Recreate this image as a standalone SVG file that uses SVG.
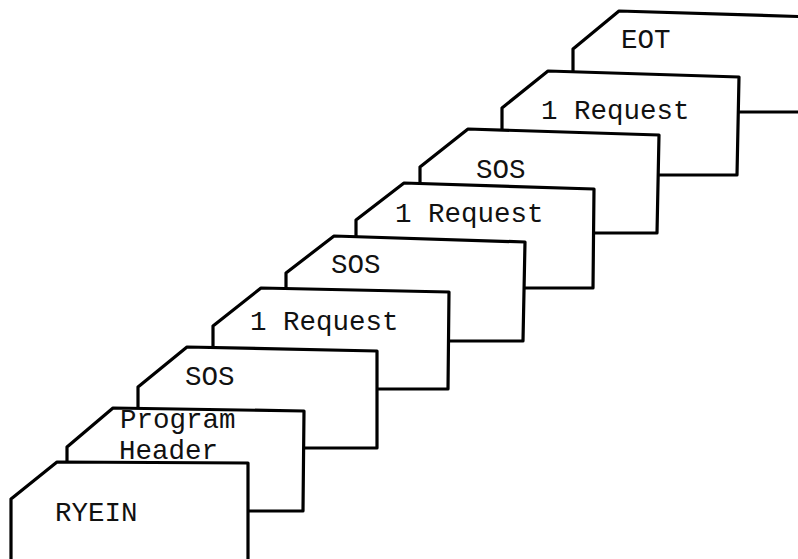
<svg xmlns="http://www.w3.org/2000/svg" width="798" height="559" viewBox="0 0 798 559">
<style>
.card{fill:#fff;stroke:#000;stroke-width:3.2;stroke-linejoin:round}
.lbl{font-family:"Liberation Mono","Courier New",monospace;font-size:27.5px;fill:#111}
</style>
<rect width="798" height="559" fill="#fff"/>
<g id="card-eot"><path class="card" d="M573,112 L573,49 L619,11 L815,17 L815,112 Z"/><text class="lbl" x="621" y="48">EOT</text></g>
<g id="card-request-3"><path class="card" d="M502,175 L502,108 L548,71 L739,77 L737,175 Z"/><text class="lbl" x="541" y="119">1 Request</text></g>
<g id="card-sos-3"><path class="card" d="M420,233 L420,167 L468,129 L659,135 L657,233 Z"/><text class="lbl" x="476" y="178">SOS</text></g>
<g id="card-request-2"><path class="card" d="M356,288 L356,220 L404,183 L594,189 L593,288 Z"/><text class="lbl" x="395" y="222">1 Request</text></g>
<g id="card-sos-2"><path class="card" d="M286,341 L286,273 L334,236 L525,242 L523,341 Z"/><text class="lbl" x="331" y="273">SOS</text></g>
<g id="card-request-1"><path class="card" d="M213,389 L213,326 L261,288 L449,292 L448,389 Z"/><text class="lbl" x="250" y="330">1 Request</text></g>
<g id="card-sos-1"><path class="card" d="M138,448 L138,387 L187,347 L377,351 L377,448 Z"/><text class="lbl" x="185" y="385">SOS</text></g>
<g id="card-program-header"><path class="card" d="M67,511 L67,447 L113,408 L304,411 L303,511 Z"/><text class="lbl" x="120" y="428">Program</text><text class="lbl" x="119" y="459">Header</text></g>
<g id="card-ryein"><path class="card" d="M11,575 L11,499 L57,462 L248,463 L248,575 Z"/><text class="lbl" x="55" y="521">RYEIN</text></g>
<g id="connectors"></g>
</svg>
